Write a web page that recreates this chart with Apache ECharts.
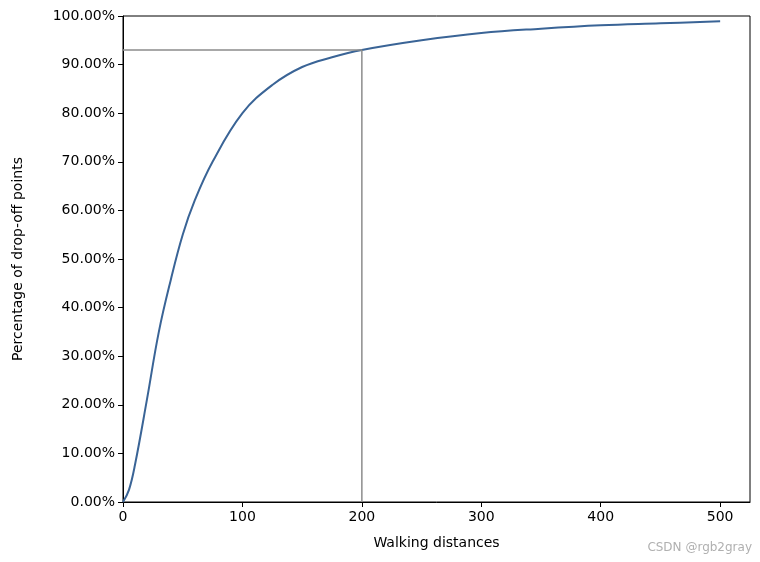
<!DOCTYPE html>
<html>
<head>
<meta charset="utf-8">
<script src="https://cdn.jsdelivr.net/npm/echarts@6/dist/echarts.min.js"></script>
<style>html,body{margin:0;padding:0;background:#fff}#chart{width:760px;height:562px}</style>
</head>
<body>
<div id="chart"></div>
<script>
const distances = [0, 5, 10, 20, 30, 40, 50, 60, 75, 100, 125, 150, 175, 200, 250, 300, 350, 400, 450, 500]
const percents = [0, 2.5, 7.6, 21, 35, 45.7, 55, 62, 70, 80, 85.8, 89.5, 91.5, 93, 95, 96.5, 97.4, 98.1, 98.5, 98.9]
const markX = 200
const markY = 93

const chart = echarts.init(document.getElementById('chart'))
const font = 'DejaVu Sans'

chart.setOption({
  animation: false,
  textStyle: { fontFamily: font },
  grid: { left: 123, right: 10, top: 16, bottom: 60, show: true, borderColor: '#000', borderWidth: 1 },
  xAxis: {
    type: 'value', min: 0, max: 525, interval: 100,
    name: 'Walking distances', nameLocation: 'middle', nameGap: 34,
    nameTextStyle: { fontSize: 14, color: '#000' },
    axisLine: { lineStyle: { color: '#000' } },
    axisTick: { show: true, length: 5, lineStyle: { color: '#000' } },
    axisLabel: { fontSize: 14, color: '#000', showMaxLabel: false, margin: 8 },
    splitLine: { show: false }
  },
  yAxis: {
    type: 'value', min: 0, max: 100, interval: 10,
    name: 'Percentage of drop-off points', nameLocation: 'middle', nameGap: 98,
    nameTextStyle: { fontSize: 14, color: '#000' },
    axisLine: { show: true, lineStyle: { color: '#000' } },
    axisTick: { show: true, length: 5, lineStyle: { color: '#000' } },
    axisLabel: { fontSize: 14, color: '#000', formatter: (v) => v.toFixed(2) + '%' },
    splitLine: { show: false }
  },
  series: [
    {
      type: 'line',
      data: distances.map((d, i) => [d, percents[i]]),
      smooth: 0.4,
      showSymbol: false,
      lineStyle: { color: '#3a6496', width: 2 }
    },
    {
      type: 'line',
      data: [[0, markY], [markX, markY], [markX, 0]],
      showSymbol: false,
      lineStyle: { color: '#8c8c8c', width: 1.5 }
    }
  ],
  graphic: [{
    type: 'text', right: 8, bottom: 8,
    style: { text: 'CSDN @rgb2gray', fill: '#b0b0b0', fontSize: 12, fontFamily: font }
  }]
})
</script>
</body>
</html>
